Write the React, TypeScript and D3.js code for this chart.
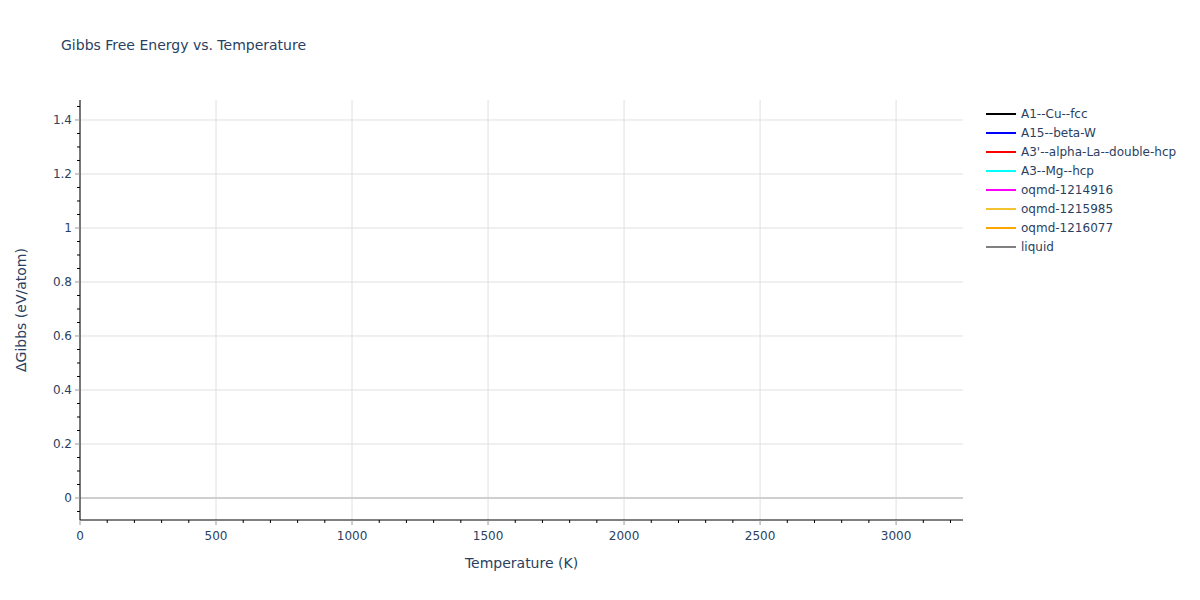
import { useMemo } from 'react';
import * as d3 from 'd3';

// The reference shows no plotted points for any phase: every series is empty.
const temperature: number[] = [];
const seriesNames = [
  'A1--Cu--fcc',
  'A15--beta-W',
  "A3'--alpha-La--double-hcp",
  'A3--Mg--hcp',
  'oqmd-1214916',
  'oqmd-1215985',
  'oqmd-1216077',
  'liquid',
];
const seriesColors = [
  'black',
  'blue',
  'red',
  'cyan',
  'magenta',
  '#f2c230',
  'orange',
  'grey',
];
const seriesValues: number[][] = [[], [], [], [], [], [], [], []];

const xDomain: [number, number] = [0, 3246];
const yDomain: [number, number] = [-0.0815, 1.474];
const xTicks = [0, 500, 1000, 1500, 2000, 2500, 3000];
const yTicks = [0, 0.2, 0.4, 0.6, 0.8, 1, 1.2, 1.4];

const FONT = '"DejaVu Sans", Verdana, sans-serif';
const TEXT = '#2a3f5f';

export default function App() {
  const width = 1200;
  const height = 600;
  const margin = { top: 100, right: 237, bottom: 80, left: 80 };
  const innerW = width - margin.left - margin.right;
  const innerH = height - margin.top - margin.bottom;

  const { x, y, xMinor, yMinor, lines } = useMemo(() => {
    const x = d3.scaleLinear().domain(xDomain).range([0, innerW]);
    const y = d3.scaleLinear().domain(yDomain).range([innerH, 0]);
    const xMinor = d3
      .range(0, xDomain[1], 100)
      .filter((t) => t % 500 !== 0);
    const yMinor = d3
      .range(-0.05, yDomain[1], 0.05)
      .map((t) => Math.round(t * 100) / 100)
      .filter((t) => Math.round(t * 100) % 20 !== 0);
    const line = d3
      .line<[number, number]>()
      .defined((d) => Number.isFinite(d[1]))
      .x((d) => x(d[0]))
      .y((d) => y(d[1]));
    const lines = seriesValues.map(
      (vals) =>
        line(vals.map((v, i) => [temperature[i], v] as [number, number])) ?? ''
    );
    return { x, y, xMinor, yMinor, lines };
  }, [innerW, innerH]);

  return (
    <svg
      width={width}
      height={height}
      style={{ position: 'absolute', left: 0, top: 0, background: 'white' }}
      fontFamily={FONT}
    >
      <text x={61} y={50} fontSize={14} fill={TEXT}>
        Gibbs Free Energy vs. Temperature
      </text>

      <g transform={`translate(${margin.left},${margin.top})`}>
        {/* grid */}
        {xTicks.map((t) => (
          <line
            key={'gx' + t}
            x1={x(t)}
            x2={x(t)}
            y1={0}
            y2={innerH}
            stroke='#e0e0e0'
          />
        ))}
        {yTicks
          .filter((t) => t !== 0)
          .map((t) => (
            <line
              key={'gy' + t}
              x1={0}
              x2={innerW}
              y1={y(t)}
              y2={y(t)}
              stroke='#e0e0e0'
            />
          ))}
        {/* zero line */}
        <line
          x1={0}
          x2={innerW}
          y1={y(0)}
          y2={y(0)}
          stroke='#cfcfcf'
          strokeWidth={2}
        />

        {/* series */}
        {lines.map((d, i) => (
          <path
            key={seriesNames[i]}
            d={d}
            fill='none'
            stroke={seriesColors[i]}
            strokeWidth={2}
          />
        ))}

        {/* axes lines */}
        <line x1={0} x2={0} y1={0} y2={innerH} stroke='black' />
        <line x1={0} x2={innerW} y1={innerH} y2={innerH} stroke='black' />

        {/* x ticks */}
        {xTicks.map((t) => (
          <g key={'xt' + t}>
            <line
              x1={x(t)}
              x2={x(t)}
              y1={innerH}
              y2={innerH + 5}
              stroke='#999'
            />
            <text
              x={x(t)}
              y={innerH + 20}
              textAnchor='middle'
              fontSize={12}
              fill={TEXT}
            >
              {t}
            </text>
          </g>
        ))}
        {xMinor.map((t) => (
          <line
            key={'xm' + t}
            x1={x(t)}
            x2={x(t)}
            y1={innerH}
            y2={innerH + 3}
            stroke='black'
          />
        ))}

        {/* y ticks */}
        {yTicks.map((t) => (
          <g key={'yt' + t}>
            <line x1={-5} x2={0} y1={y(t)} y2={y(t)} stroke='#999' />
            <text
              x={-8}
              y={y(t)}
              dy='0.35em'
              textAnchor='end'
              fontSize={12}
              fill={TEXT}
            >
              {t}
            </text>
          </g>
        ))}
        {yMinor.map((t) => (
          <line
            key={'ym' + t}
            x1={-3}
            x2={0}
            y1={y(t)}
            y2={y(t)}
            stroke='black'
          />
        ))}

        {/* axis titles */}
        <text
          x={innerW / 2}
          y={innerH + 48}
          textAnchor='middle'
          fontSize={14}
          fill={TEXT}
        >
          Temperature (K)
        </text>
        <text
          transform={`translate(${-54},${innerH / 2}) rotate(-90)`}
          textAnchor='middle'
          fontSize={14}
          fill={TEXT}
        >
          ΔGibbs (eV/atom)
        </text>
      </g>

      {/* legend */}
      <g transform='translate(986,114)'>
        {seriesNames.map((name, i) => (
          <g key={name} transform={`translate(0,${i * 19})`}>
            <line x1={0} x2={30} y1={0} y2={0} stroke={seriesColors[i]} strokeWidth={2} />
            <text x={35} y={0} dy='0.35em' fontSize={12} fill={TEXT}>
              {name}
            </text>
          </g>
        ))}
      </g>
    </svg>
  );
}
